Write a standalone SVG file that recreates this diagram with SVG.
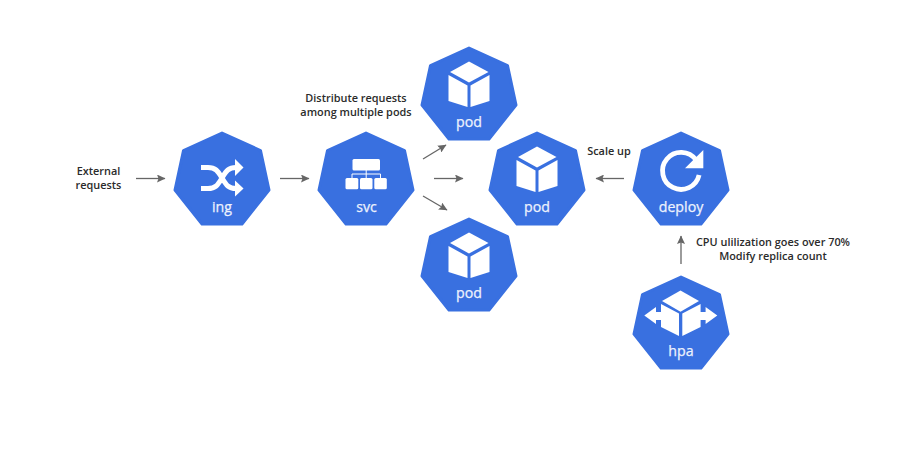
<svg xmlns="http://www.w3.org/2000/svg" width="899" height="449" viewBox="0 0 899 449">
<style>
.hep{fill:#3970e0;stroke:#3970e0;stroke-width:3;stroke-linejoin:round}
.ic{fill:#fff}
.nl{font:400 14.2px "Open Sans","Noto Sans",sans-serif;fill:#edf2fd;text-anchor:middle;stroke:#edf2fd;stroke-width:.25}
.lb{font:600 10.9px "Open Sans","Noto Sans",sans-serif;fill:#2b2b2b;text-anchor:middle}
.ln{fill:none;stroke:#666;stroke-width:1.3}
.ar{fill:#666}
</style>
<defs>
<polygon id="hep" class="hep" points="0,2 38.500,19.500 47,59 20,93 -20,93 -47,59 -38.500,19.500"/>
<g id="cube" class="ic">
<polygon points="0,15.500 19.500,26 0,36.500 -19,26"/>
<polygon points="-20.500,29 -1.500,39.500 -1.500,61 -20.500,55"/>
<polygon points="20.500,29 1.500,39.500 1.500,61 20.500,55"/>
</g>
<marker id="ah" markerWidth="9" markerHeight="8" refX="8" refY="4" orient="auto" markerUnits="userSpaceOnUse"><path class="ar" d="M0,0L8.500,4L0,8L1.500,4z"/></marker>
</defs>
<g id="connectors">
<line class="ln" x1="136" y1="178.500" x2="165" y2="178.500" marker-end="url(#ah)"/>
<line class="ln" x1="280" y1="178.500" x2="309" y2="178.500" marker-end="url(#ah)"/>
<line class="ln" x1="423" y1="159" x2="446" y2="145" marker-end="url(#ah)"/>
<line class="ln" x1="434" y1="178.500" x2="463" y2="178.500" marker-end="url(#ah)"/>
<line class="ln" x1="423" y1="196" x2="447" y2="210" marker-end="url(#ah)"/>
<line class="ln" x1="624" y1="178.500" x2="596" y2="178.500" marker-end="url(#ah)"/>
<line class="ln" x1="681" y1="264" x2="681" y2="236" marker-end="url(#ah)"/>
</g>
<g id="ing">
<use href="#hep" x="222" y="131"/>
<path d="M201,167.500h7c8,0 10,4 14,10.500s6,10.500 14,10.500h3M201,188.500h7c8,0 10,-4 14,-10.500s6,-10.500 14,-10.500h3" fill="none" stroke="#fff" stroke-width="5"/>
<polygon class="ic" points="235,159 243.500,167.500 235,176"/>
<polygon class="ic" points="235,180.500 243.500,188.500 235,196.500"/>
<text class="nl" x="222" y="212">ing</text>
</g>
<g id="svc">
<use href="#hep" x="366" y="131"/>
<g class="ic"><rect x="352.500" y="159" width="27.500" height="11.500" rx="1.500"/><rect x="345.500" y="178" width="12.800" height="11.300" rx="1.500"/><rect x="360" y="178" width="12.500" height="11.300" rx="1.500"/><rect x="374.300" y="178" width="12.500" height="11.300" rx="1.500"/></g>
<path d="M366.200,170v8M352,178v-4h28.500v4" fill="none" stroke="#fff"/>
<text class="nl" x="366.500" y="212">svc</text>
</g>
<g id="pod-top">
<use href="#hep" x="469" y="46"/>
<use href="#cube" x="469" y="46"/>
<text class="nl" x="469" y="126.500">pod</text>
</g>
<g id="pod-mid">
<use href="#hep" x="537" y="131"/>
<use href="#cube" x="537" y="131"/>
<text class="nl" x="537" y="212">pod</text>
</g>
<g id="pod-bottom">
<use href="#hep" x="469" y="217"/>
<use href="#cube" x="469" y="217"/>
<text class="nl" x="469" y="297.500">pod</text>
</g>
<g id="deploy">
<use href="#hep" x="681" y="131"/>
<path d="M696,160A18.500,18.500 0 1 0 699.100,175" fill="none" stroke="#fff" stroke-width="4.800"/>
<polygon class="ic" points="703.300,150 703.300,168.300 685,168.300"/>
<text class="nl" x="681" y="212">deploy</text>
</g>
<g id="hpa">
<use href="#hep" x="681" y="275"/>
<g class="ic">
<polygon points="680.500,290.500 699,301 680.500,311.700 662,301"/>
<polygon points="644.300,315.500 656,307 656,312 661,312 661,304 679,313.500 679,336 661,327 661,320 656,320 656,324"/>
<polygon points="717.300,315.500 705.600,307 705.600,312 700.600,312 700.600,304 682.300,313.500 682.300,336 700.600,327 700.600,320 705.600,320 705.600,324"/>
</g>
<text class="nl" x="681" y="356">hpa</text>
</g>
<g id="labels">
<text class="lb" x="98.500" y="175">External</text>
<text class="lb" x="98.500" y="188.500">requests</text>
<text class="lb" x="356" y="102">Distribute requests</text>
<text class="lb" x="356" y="116">among multiple pods</text>
<text class="lb" x="609" y="155">Scale up</text>
<text class="lb" x="773" y="246">CPU ulilization goes over 70%</text>
<text class="lb" x="773" y="260">Modify replica count</text>
</g>
</svg>
